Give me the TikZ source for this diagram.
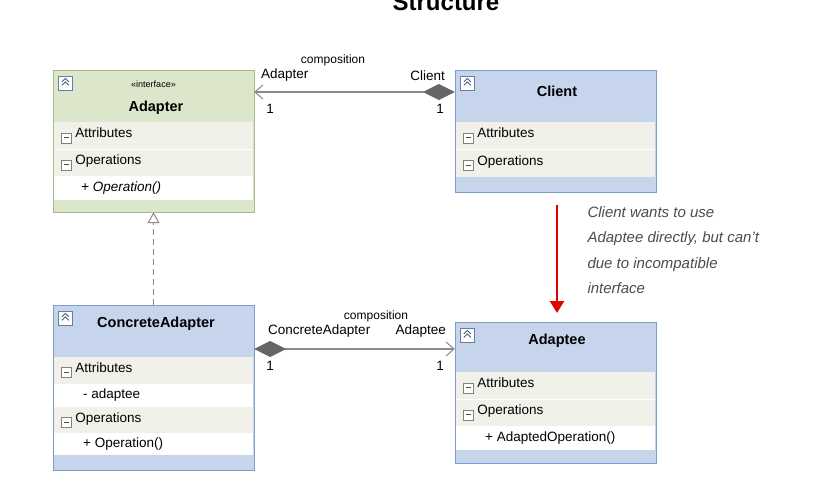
\documentclass[tikz,border=0pt]{standalone}
\usepackage{fontspec}
\setmainfont{Liberation Sans}
\usetikzlibrary{positioning,arrows.meta,shapes.geometric}
\definecolor{grnhead}{HTML}{DCE6CB}
\definecolor{grnline}{HTML}{A7B98A}
\definecolor{bluhead}{HTML}{C6D4EC}
\definecolor{bluline}{HTML}{7F9DC9}
\definecolor{rowgray}{HTML}{F1F1EA}
\definecolor{linkgray}{HTML}{8A8A8A}
\tikzset{
  head/.style={minimum width=201pt, inner sep=0pt, draw=none},
  lab/.style={font=\fontsize{13.5}{15}\selectfont, inner sep=1pt},
  ttl/.style={font=\bfseries\fontsize{14.5}{16}\selectfont},
  link/.style={draw=linkgray, line width=1.5pt,
    {Diamond[fill=gray!80!black, color=gray!80!black, length=32pt, width=16pt]}-{Straight Barb[length=8pt, width=14pt, line width=1pt]}}
}
\newcommand{\minbox}{\tikz[baseline=-4pt]{\draw[gray,fill=white] (0,-9pt) rectangle (10pt,1pt); \draw[black!70,thick] (2.5pt,-4pt)--(7.5pt,-4pt);}}
\newcommand{\colbox}{\tikz{\draw[bluline!80!black,fill=white] (0,0) rectangle (14pt,14pt); \draw[thick,bluline!60!black] (3.5pt,5pt)--(7pt,8.5pt)--(10.5pt,5pt) (3.5pt,8.5pt)--(7pt,12pt)--(10.5pt,8.5pt);}}
\begin{document}
\begin{tikzpicture}[x=1pt,y=-1pt]
\useasboundingbox (0,0) rectangle (840,480);
\node[font=\bfseries\fontsize{24}{26}\selectfont] (title) at (446,2) {Structure};

% Adapter
\fill[grnhead] (53,70) rectangle (254,212);
\node[head, minimum height=52pt] (adapterhead) at (153.5,96) {};
\node[font=\fontsize{9}{10}\selectfont] at (153.5,84) {«interface»};
\node[ttl] at (156,108) {Adapter};
\node[anchor=north west, inner sep=0pt] at (58,76) {\colbox};
\fill[rowgray] (54,122) rectangle (253,176);
\fill[white] (54,176) rectangle (253,200);
\draw[white] (54,149) -- (253,149);
\node[lab, anchor=west] at (60,135.5) {\minbox\ Attributes};
\node[lab, anchor=west] at (60,162.5) {\minbox\ Operations};
\node[lab, anchor=west] at (80,188) {\itshape + Operation()};
\draw[grnline, line width=1pt] (53,70) rectangle (254,212);
\node[head, minimum height=142pt] (adapter) at (153.5,141) {};

% Client
\fill[bluhead] (455,70) rectangle (656,192);
\node[head, minimum height=52pt] (clienthead) at (555.5,92) {};
\node[ttl] at (557,91) {Client};
\node[anchor=north west, inner sep=0pt] at (460,76) {\colbox};
\fill[rowgray] (456,122) rectangle (655,177);
\draw[white] (456,149) -- (655,149);
\node[lab, anchor=west] at (462,135.5) {\minbox\ Attributes};
\node[lab, anchor=west] at (462,163) {\minbox\ Operations};
\draw[bluline, line width=1pt] (455,70) rectangle (656,192);
\node[head, minimum height=122pt] (client) at (555.5,131) {};

% ConcreteAdapter
\fill[bluhead] (53,305) rectangle (254,470);
\node[head, minimum height=52pt] (cahead) at (153.5,349) {};
\node[ttl] at (156,324) {ConcreteAdapter};
\node[anchor=north west, inner sep=0pt] at (58,311) {\colbox};
\fill[rowgray] (54,357) rectangle (253,384);
\fill[white] (54,384) rectangle (253,407);
\fill[rowgray] (54,407) rectangle (253,433);
\fill[white] (54,433) rectangle (253,455);
\node[lab, anchor=west] at (60,370) {\minbox\ Attributes};
\node[lab, anchor=west] at (82,395) {- adaptee};
\node[lab, anchor=west] at (60,420) {\minbox\ Operations};
\node[lab, anchor=west] at (82,444) {+ Operation()};
\draw[bluline, line width=1pt] (53,305) rectangle (254,470);
\node[head, minimum height=165pt] (concrete) at (153.5,387.5) {};

% Adaptee
\fill[bluhead] (455,322) rectangle (656,463);
\node[head, minimum height=52pt] (adapteehead) at (555.5,349) {};
\node[ttl] at (557,341) {Adaptee};
\node[anchor=north west, inner sep=0pt] at (460,328) {\colbox};
\fill[rowgray] (456,372) rectangle (655,426);
\fill[white] (456,426) rectangle (655,450);
\draw[white] (456,399) -- (655,399);
\node[lab, anchor=west] at (462,385.5) {\minbox\ Attributes};
\node[lab, anchor=west] at (462,412.5) {\minbox\ Operations};
\node[lab, anchor=west] at (484,438) {+ AdaptedOperation()};
\draw[bluline, line width=1pt] (455,322) rectangle (656,463);
\node[head, minimum height=141pt] (adaptee) at (555.5,392.5) {};

% links
\draw[link] (clienthead.west) -- (clienthead.west -| adapterhead.east);
\node[lab, font=\fontsize{12}{13}\selectfont] at (333,60) {composition};
\node[lab, anchor=south west] at (260,82) {Adapter};
\node[lab, anchor=south east] at (446,82) {Client};
\node[lab] at (270,109) {1};
\node[lab] at (440,109) {1};

\draw[link] (adapteehead.west -| cahead.east) -- (adapteehead.west);
\node[lab, font=\fontsize{12}{13}\selectfont] at (376,316) {composition};
\node[lab, anchor=south west] at (267,338) {ConcreteAdapter};
\node[lab, anchor=south east] at (447,338) {Adaptee};
\node[lab] at (270,366) {1};
\node[lab] at (440,366) {1};

\draw[linkgray, line width=1pt, dash pattern=on 6pt off 4pt, -{Triangle[open, length=11pt, width=12pt, fill=white]}]
  (concrete.north) -- (adapter.south);

\draw[red!90!black, line width=2.5pt, -{Triangle[length=12pt, width=14pt]}] (557,205) -- (557,313);
\node[anchor=north west, align=left, text=black!70, font=\fontsize{15}{25.5}\selectfont\itshape] (note) at (584,203)
  {Client wants to use\\Adaptee directly, but can't\\due to incompatible\\interface};
\end{tikzpicture}
\end{document}
